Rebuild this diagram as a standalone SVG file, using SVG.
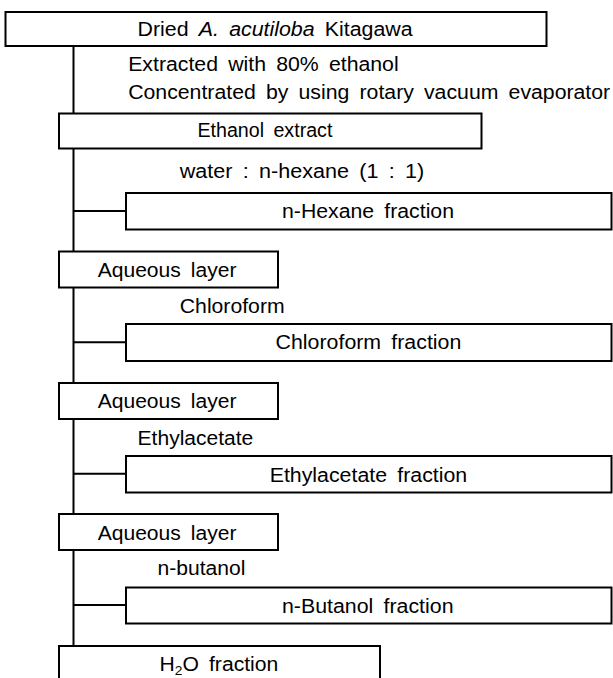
<svg xmlns="http://www.w3.org/2000/svg" width="613" height="678" viewBox="0 0 613 678">
<style>
.box{fill:#fff;stroke:#000;stroke-width:2}
.ln{stroke:#000;stroke-width:2;fill:none}
text{font-family:"Liberation Sans",Arial,sans-serif;font-size:20px;fill:#000;word-spacing:4px}
</style>
<rect x="0" y="0" width="613" height="678" fill="#fff"/>
<g id="connectors">
<line class="ln" x1="73.5" y1="46" x2="73.5" y2="647"/>
<line class="ln" x1="73.5" y1="211" x2="126" y2="211"/>
<line class="ln" x1="73.5" y1="342.3" x2="126" y2="342.3"/>
<line class="ln" x1="73.5" y1="473.7" x2="126" y2="473.7"/>
<line class="ln" x1="73.5" y1="605" x2="126" y2="605"/>
</g>
<g id="dried">
<rect class="box" x="5.5" y="12" width="541" height="34"/>
<text x="137.6" y="36" textLength="275" lengthAdjust="spacingAndGlyphs">Dried <tspan font-style="italic">A. acutiloba</tspan> Kitagawa</text>
</g>
<g id="step1">
<text x="128.2" y="71" textLength="270.5" lengthAdjust="spacingAndGlyphs">Extracted with 80% ethanol</text>
<text x="128.2" y="99.3" textLength="482" lengthAdjust="spacingAndGlyphs">Concentrated by using rotary vacuum evaporator</text>
</g>
<g id="ethanol">
<rect class="box" x="59" y="113.5" width="422.5" height="35"/>
<text x="197.4" y="137" textLength="135" lengthAdjust="spacingAndGlyphs">Ethanol extract</text>
</g>
<g id="step2">
<text x="179.8" y="178.3" textLength="244.4" lengthAdjust="spacingAndGlyphs">water : n-hexane (1 : 1)</text>
</g>
<g id="hexane">
<rect class="box" x="126" y="193" width="485.5" height="36.5"/>
<text x="282" y="218.3" textLength="172" lengthAdjust="spacingAndGlyphs">n-Hexane fraction</text>
</g>
<g id="aqueous1">
<rect class="box" x="59" y="251.5" width="219" height="36"/>
<text x="97.7" y="276.8" textLength="138.8" lengthAdjust="spacingAndGlyphs">Aqueous layer</text>
</g>
<g id="step3">
<text x="179.8" y="312.7" textLength="104.8" lengthAdjust="spacingAndGlyphs">Chloroform</text>
</g>
<g id="chloroform">
<rect class="box" x="126" y="324" width="485.5" height="37"/>
<text x="275.6" y="349.3" textLength="185.7" lengthAdjust="spacingAndGlyphs">Chloroform fraction</text>
</g>
<g id="aqueous2">
<rect class="box" x="59" y="383" width="219" height="36"/>
<text x="97.7" y="408.3" textLength="138.8" lengthAdjust="spacingAndGlyphs">Aqueous layer</text>
</g>
<g id="step4">
<text x="137.6" y="445" textLength="115.7" lengthAdjust="spacingAndGlyphs">Ethylacetate</text>
</g>
<g id="ethylacetate">
<rect class="box" x="126" y="456" width="485.5" height="36.5"/>
<text x="269.7" y="481.7" textLength="197.5" lengthAdjust="spacingAndGlyphs">Ethylacetate fraction</text>
</g>
<g id="aqueous3">
<rect class="box" x="59" y="514" width="219" height="36"/>
<text x="97.7" y="540" textLength="138.8" lengthAdjust="spacingAndGlyphs">Aqueous layer</text>
</g>
<g id="step5">
<text x="157.5" y="575" textLength="88" lengthAdjust="spacingAndGlyphs">n-butanol</text>
</g>
<g id="butanol">
<rect class="box" x="126" y="587.5" width="485.5" height="36"/>
<text x="282" y="612.7" textLength="171.5" lengthAdjust="spacingAndGlyphs">n-Butanol fraction</text>
</g>
<g id="h2o">
<rect class="box" x="59" y="646" width="321" height="40"/>
<text x="159.5" y="671" textLength="118.8" lengthAdjust="spacingAndGlyphs">H<tspan font-size="13px" dy="4">2</tspan><tspan dy="-4">O fraction</tspan></text>
</g>
</svg>
